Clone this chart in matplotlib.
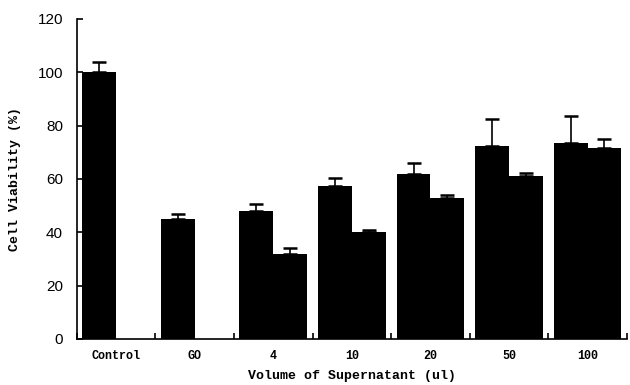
import numpy as np
import matplotlib
matplotlib.use('agg')
import matplotlib.pyplot as plt

# values
categories = ['Control', 'GO', '4', '10', '20', '50', '100']
first_vals = [100, 45, 48, 57.5, 62, 72.5, 73.5]
first_errs = [4, 2, 2.5, 3, 4, 10, 10]
second_vals = [np.nan, np.nan, 32, 40, 53, 61, 71.5]
second_errs = [np.nan, np.nan, 2, 1, 1, 1.3, 3.5]

x = np.arange(len(categories))
width = 0.43

fig = plt.figure(figsize=(6.3, 3.85), dpi=100)
ax = fig.add_axes([0.122, 0.1195, 0.873, 0.8315])

mono = 'Liberation Mono'
ax.bar(x - width / 2, first_vals, width, color='black',
       yerr=[np.zeros(len(x)), first_errs], capsize=5,
       error_kw=dict(elinewidth=1.2, capthick=1.8, ecolor='black'))

sel = ~np.isnan(np.array(second_vals))
ax.bar(x[sel] + width / 2, np.array(second_vals)[sel], width, color='black',
       yerr=[np.zeros(sel.sum()), np.array(second_errs)[sel]], capsize=5,
       error_kw=dict(elinewidth=1.2, capthick=1.8, ecolor='black'))

ax.set_xlim(-0.5, len(categories) - 0.5)
ax.set_ylim(0, 120)
ax.set_yticks(range(0, 121, 20))
ax.tick_params(axis='y', direction='in', length=4, width=1.2, pad=10,
               labelsize=11)
for lab in ax.get_yticklabels():
    lab.set_family('Liberation Sans')

ax.set_xticks(np.arange(len(categories) + 1) - 0.5)
ax.set_xticklabels([])
ax.tick_params(axis='x', which='major', direction='in', length=4, width=1.2)
ax.set_xticks(x, minor=True)
ax.set_xticklabels(categories, minor=True, family=mono, fontweight='bold',
                   fontsize=8.5)
ax.tick_params(axis='x', which='minor', length=0, pad=8)

ax.spines['top'].set_visible(False)
ax.spines['right'].set_visible(False)
ax.spines['left'].set_linewidth(1.2)
ax.spines['bottom'].set_linewidth(1.2)

ax.set_xlabel('Volume of Supernatant (ul)', family=mono, fontweight='bold',
              fontsize=9.5, labelpad=6)
ax.set_ylabel('Cell Viability (%)', family=mono, fontweight='bold',
              fontsize=9.5, labelpad=12)

fig.savefig('out.png', dpi=100)
